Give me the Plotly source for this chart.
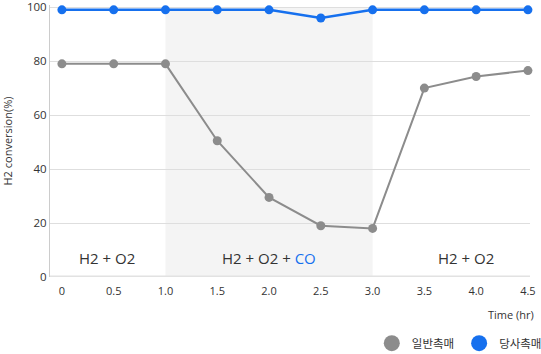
import plotly.graph_objects as go

time_hr = [0, 0.5, 1.0, 1.5, 2.0, 2.5, 3.0, 3.5, 4.0, 4.5]
general_catalyst = [79, 79, 79, 50.5, 29.5, 19, 18, 70, 74.3, 76.5]
our_catalyst = [99, 99, 99, 99, 99, 96, 99, 99, 99, 99]
x_tick_vals = [0, 0.5, 1.0, 1.5, 2.0, 2.5, 3.0, 3.5, 4.0, 4.5]
x_tick_text = ["0", "0.5", "1.0", "1.5", "2.0", "2.5", "3.0", "3.5", "4.0", "4.5"]
y_tick_vals = [0, 20, 40, 60, 80, 100]

GRAY = "#8c8c8c"
BLUE = "#1670ee"
FONT = "Open Sans, Noto Sans CJK KR"

fig = go.Figure()
fig.add_trace(go.Scatter(x=time_hr, y=general_catalyst, mode="lines+markers",
                         line=dict(color=GRAY, width=2), marker=dict(color=GRAY, size=9),
                         showlegend=False, cliponaxis=False))
fig.add_trace(go.Scatter(x=time_hr, y=our_catalyst, mode="lines+markers",
                         line=dict(color=BLUE, width=2.5), marker=dict(color=BLUE, size=9),
                         showlegend=False, cliponaxis=False))
fig.add_trace(go.Scatter(x=[None], y=[None], mode="markers", name="일반촉매",
                         marker=dict(color=GRAY, size=16)))
fig.add_trace(go.Scatter(x=[None], y=[None], mode="markers", name="당사촉매",
                         marker=dict(color=BLUE, size=16)))

fig.add_shape(type="rect", xref="x", yref="y", x0=1.0, x1=3.0, y0=0, y1=100,
              fillcolor="#f4f4f4", line=dict(width=0), layer="below")

ann_font = dict(family=FONT, size=15, color="#333333")
fig.add_annotation(x=0.44, y=7, text="H2 + O2", showarrow=False, font=ann_font)
fig.add_annotation(x=2.0, y=7, text="H2 + O2 + <span style='color:%s'>CO</span>" % BLUE,
                   showarrow=False, font=ann_font)
fig.add_annotation(x=3.9, y=7, text="H2 + O2", showarrow=False, font=ann_font)
fig.add_annotation(x=1.012, xref="paper", xanchor="right", y=-0.138, yref="paper",
                   yanchor="middle", text="Time (hr)", showarrow=False,
                   font=dict(family=FONT, size=11, color="#333333"))

fig.update_layout(
    width=541, height=354,
    margin=dict(l=50, r=11, t=5, b=77, autoexpand=False),
    paper_bgcolor="white", plot_bgcolor="white",
    font=dict(family=FONT, size=12, color="#333333"),
    legend=dict(orientation="h", x=1.035, xanchor="right", y=-0.19, yanchor="top",
                font=dict(family=FONT, size=11.5, color="#333333"),
                itemwidth=30),
    xaxis=dict(range=[-0.115, 4.52], tickvals=x_tick_vals, ticktext=x_tick_text,
               showgrid=False, zeroline=False, showline=False, ticks="",
               ticklabelstandoff=6, tickfont=dict(size=11)),
    yaxis=dict(range=[0, 100.8], tickvals=y_tick_vals, showgrid=True, gridcolor="#dedede",
               gridwidth=1, zeroline=False, showline=True, linecolor="#cccccc",
               ticks="", tickfont=dict(size=11.5), ticklabeloverflow="allow",
               title=dict(text="H2 conversion(%)", font=dict(size=11), standoff=18)),
)
fig.add_shape(type="line", xref="paper", yref="y", x0=0, x1=1, y0=0, y1=0,
              line=dict(color="#e2e2e2", width=3))

fig.write_html("out.html")
